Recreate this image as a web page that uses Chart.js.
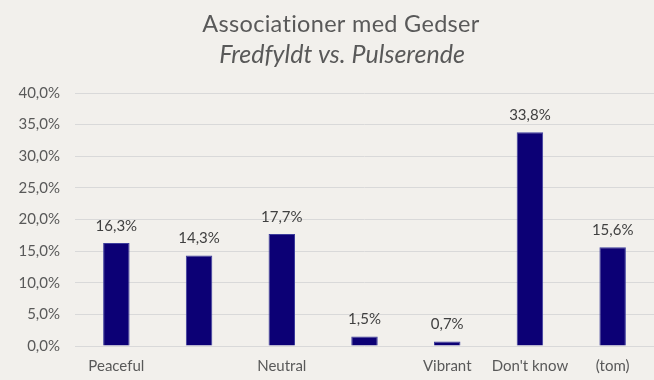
<!DOCTYPE html>
<html>
<head>
<meta charset="utf-8">
<script src="https://cdn.jsdelivr.net/npm/chart.js@4/dist/chart.umd.min.js"></script>
<style>
  html, body { margin: 0; padding: 0; background: #f2f0ec; }
  #wrap { width: 654px; height: 380px; position: relative; }
</style>
</head>
<body>
<div id="wrap"><canvas id="c" width="654" height="380"></canvas></div>
<script>
const titleText = "Associationer med Gedser";
const subtitleText = "Fredfyldt vs. Pulserende";
const categories = ["Peaceful", "", "Neutral", "", "Vibrant", "Don't know", "(tom)"];
const shares = [16.3, 14.3, 17.7, 1.5, 0.7, 33.8, 15.6];
const yTicks = [0, 5, 10, 15, 20, 25, 30, 35, 40];

const FONT = "Lato, 'Open Sans', sans-serif";
const fmt = v => v.toFixed(1).replace('.', ',') + '%';

const titlePlugin = {
  id: 'titles',
  afterDraw(chart) {
    const ctx = chart.ctx;
    ctx.save();
    ctx.fillStyle = '#595959';
    ctx.textAlign = 'center';
    ctx.textBaseline = 'alphabetic';
    if ('letterSpacing' in ctx) ctx.letterSpacing = '0.3px';
    ctx.font = "23.5px " + FONT;
    ctx.fillText(titleText, 341, 32);
    if ('letterSpacing' in ctx) ctx.letterSpacing = '0px';
    ctx.font = "italic 25px " + FONT;
    ctx.fillText(subtitleText, 342, 63);
    ctx.restore();
  }
};

const labelPlugin = {
  id: 'barLabels',
  afterDatasetsDraw(chart) {
    const ctx = chart.ctx;
    ctx.save();
    ctx.fillStyle = '#404040';
    ctx.font = "15px " + FONT;
    ctx.textAlign = 'center';
    ctx.textBaseline = 'middle';
    chart.getDatasetMeta(0).data.forEach((bar, i) => {
      ctx.fillText(fmt(shares[i]), bar.x, bar.y - 17);
    });
    ctx.restore();
  }
};

new Chart(document.getElementById('c'), {
  type: 'bar',
  data: {
    labels: categories,
    datasets: [{
      data: shares,
      backgroundColor: '#0c0075',
      borderColor: '#3d3d9c',
      borderWidth: 1,
      categoryPercentage: 1,
      barPercentage: 0.32
    }]
  },
  options: {
    responsive: false,
    animation: false,
    layout: { padding: { top: 93, right: 0, left: 0, bottom: 0 } },
    plugins: { legend: { display: false }, tooltip: { enabled: false } },
    scales: {
      x: {
        grid: { display: false, drawTicks: false },
        border: { display: false },
        ticks: { color: '#595959', font: { family: FONT, size: 15 }, padding: 11, maxRotation: 0, autoSkip: false },
        afterFit(s) { s.height = 34; }
      },
      y: {
        min: 0, max: 40,
        afterBuildTicks(s) { s.ticks = yTicks.map(v => ({ value: v })); },
        grid: { color: '#d9d9d9', lineWidth: 1, drawTicks: false },
        border: { display: false },
        ticks: { color: '#595959', font: { family: FONT, size: 15 }, padding: 15, callback: v => fmt(v) },
        afterFit(s) { s.width = 75; }
      }
    }
  },
  plugins: [titlePlugin, labelPlugin]
});
</script>
</body>
</html>
